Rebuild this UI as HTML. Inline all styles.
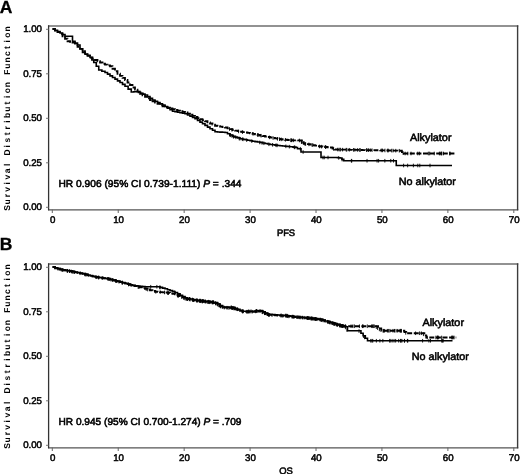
<!DOCTYPE html>
<html lang="en"><head><meta charset="utf-8"><title>Survival Distribution Function</title>
<style>html,body{margin:0;padding:0;background:#fff}svg{display:block;will-change:transform}text{text-rendering:geometricPrecision;font-family:"Liberation Sans",Arial,sans-serif;fill:#000;stroke:#000;stroke-width:.55px}</style></head><body>
<svg width="520" height="474" viewBox="0 0 520 474">
<rect width="520" height="474" fill="#fff"/>
<g transform="translate(0,0)">
<path d="M48,26 H518.3" stroke="#6e6e6e" stroke-width="1.5" fill="none"/>
<path d="M48,209.85 H518.3" stroke="#555" stroke-width="1.35" fill="none"/>
<path d="M48.6,25.3 V210.3" stroke="#333" stroke-width="1.3" fill="none"/>
<path d="M517.6,25.3 V210.3" stroke="#3c3c3c" stroke-width="1.4" fill="none"/>
<path d="M46,29.30 H48.5" stroke="#777" stroke-width="1" fill="none"/>
<text transform="translate(42,32.10) scale(1,1)" font-size="9.7" style="stroke-width:.5px" text-anchor="end">1.00</text>
<path d="M46,73.80 H48.5" stroke="#777" stroke-width="1" fill="none"/>
<text transform="translate(42,76.60) scale(1,1)" font-size="9.7" style="stroke-width:.5px" text-anchor="end">0.75</text>
<path d="M46,118.30 H48.5" stroke="#777" stroke-width="1" fill="none"/>
<text transform="translate(42,121.10) scale(1,1)" font-size="9.7" style="stroke-width:.5px" text-anchor="end">0.50</text>
<path d="M46,162.80 H48.5" stroke="#777" stroke-width="1" fill="none"/>
<text transform="translate(42,165.60) scale(1,1)" font-size="9.7" style="stroke-width:.5px" text-anchor="end">0.25</text>
<path d="M46,207.30 H48.5" stroke="#777" stroke-width="1" fill="none"/>
<text transform="translate(42,210.10) scale(1,1)" font-size="9.7" style="stroke-width:.5px" text-anchor="end">0.00</text>
<path d="M52.30,209.5 V213" stroke="#666" stroke-width="1" fill="none"/>
<text transform="translate(52.65,222.5) scale(1,1)" font-size="9.7" style="stroke-width:.5px" text-anchor="middle">0</text>
<path d="M118.23,209.5 V213" stroke="#666" stroke-width="1" fill="none"/>
<text transform="translate(118.58,222.5) scale(1,1)" font-size="9.7" style="stroke-width:.5px" text-anchor="middle">10</text>
<path d="M184.16,209.5 V213" stroke="#666" stroke-width="1" fill="none"/>
<text transform="translate(184.51,222.5) scale(1,1)" font-size="9.7" style="stroke-width:.5px" text-anchor="middle">20</text>
<path d="M250.09,209.5 V213" stroke="#666" stroke-width="1" fill="none"/>
<text transform="translate(250.44,222.5) scale(1,1)" font-size="9.7" style="stroke-width:.5px" text-anchor="middle">30</text>
<path d="M316.02,209.5 V213" stroke="#666" stroke-width="1" fill="none"/>
<text transform="translate(316.37,222.5) scale(1,1)" font-size="9.7" style="stroke-width:.5px" text-anchor="middle">40</text>
<path d="M381.95,209.5 V213" stroke="#666" stroke-width="1" fill="none"/>
<text transform="translate(382.30,222.5) scale(1,1)" font-size="9.7" style="stroke-width:.5px" text-anchor="middle">50</text>
<path d="M447.88,209.5 V213" stroke="#666" stroke-width="1" fill="none"/>
<text transform="translate(448.23,222.5) scale(1,1)" font-size="9.7" style="stroke-width:.5px" text-anchor="middle">60</text>
<path d="M513.81,209.5 V213" stroke="#666" stroke-width="1" fill="none"/>
<text transform="translate(514.16,222.5) scale(1,1)" font-size="9.7" style="stroke-width:.5px" text-anchor="middle">70</text>
<text x="286" y="235.6" font-size="9.4" text-anchor="middle">PFS</text>
<text x="-0.2" y="12.6" font-size="17.5" font-weight="bold" style="stroke-width:.3px">A</text>
<text transform="translate(9.8,208.0) rotate(-90)" font-size="8.5" font-weight="bold" style="stroke-width:0" text-anchor="middle" x="0.00 6.17 12.34 18.52 24.69 30.86 37.03 43.21 49.38 55.55 61.72 67.90 74.07 80.24 86.41 92.59 98.76 104.93 111.10 117.28 123.45 129.62 135.79 141.97 148.14 154.31 160.48 166.66 172.83 179.00">Survival Distribution Function</text>
<path d="M52.50,29.00 L55.00,29.00 L55.00,30.33 L57.50,30.33 L57.50,31.67 L60.00,31.67 L60.00,33.00 L62.50,33.00 L62.50,34.62 L65.00,34.62 L65.00,36.25 L67.50,36.25 L67.50,36.25 L70.00,36.25 L70.00,36.25 L72.50,36.25 L72.50,41.25 L75.00,41.25 L75.00,43.12 L77.50,43.12 L77.50,45.00 L80.00,45.00 L80.00,48.75 L82.50,48.75 L82.50,52.50 L85.00,52.50 L85.00,54.17 L87.50,54.17 L87.50,55.83 L90.00,55.83 L90.00,57.50 L91.88,57.50 L91.88,60.00 L93.75,60.00 L93.75,62.50 L96.25,62.50 L96.25,66.25 L98.75,66.25 L98.75,70.00 L101.88,70.00 L101.88,71.25 L105.00,71.25 L105.00,72.50 L107.50,72.50 L107.50,74.17 L110.00,74.17 L110.00,75.83 L112.50,75.83 L112.50,77.50 L115.00,77.50 L115.00,79.17 L117.50,79.17 L117.50,80.83 L120.00,80.83 L120.00,82.50 L122.50,82.50 L122.50,84.38 L125.00,84.38 L125.00,86.25 L128.12,86.25 L128.12,89.12 L131.25,89.12 L131.25,92.00 L133.75,92.00 L133.75,91.75 L136.25,91.75 L136.25,91.50 L138.44,91.50 L138.44,92.38 L140.62,92.38 L140.62,93.25 L142.81,93.25 L142.81,94.12 L145.00,94.12 L145.00,95.00 L147.50,95.00 L147.50,96.67 L150.00,96.67 L150.00,98.33 L152.50,98.33 L152.50,100.00 L155.00,100.00 L155.00,101.25 L157.50,101.25 L157.50,102.50 L160.00,102.50 L160.00,103.75 L162.50,103.75 L162.50,105.00 L165.00,105.00 L165.00,106.56 L167.50,106.56 L167.50,108.12 L170.00,108.12 L170.00,109.69 L172.50,109.69 L172.50,111.25 L175.00,111.25 L175.00,111.75 L177.50,111.75 L177.50,112.25 L180.00,112.25 L180.00,112.75 L182.50,112.75 L182.50,113.25 L185.00,113.25 L185.00,113.75 L187.50,113.75 L187.50,115.00 L190.00,115.00 L190.00,116.25 L192.50,116.25 L192.50,117.50 L195.00,117.50 L195.00,118.75 L197.50,118.75 L197.50,120.42 L200.00,120.42 L200.00,122.08 L202.50,122.08 L202.50,123.75 L205.00,123.75 L205.00,125.42 L207.50,125.42 L207.50,127.08 L210.00,127.08 L210.00,128.75 L212.50,128.75 L212.50,130.25 L215.00,130.25 L215.00,131.75 L217.50,131.75 L217.50,131.94 L220.00,131.94 L220.00,132.12 L222.50,132.12 L222.50,132.31 L225.00,132.31 L225.00,132.50 L227.50,132.50 L227.50,133.75 L230.00,133.75 L230.00,135.00 L232.50,135.00 L232.50,136.25 L235.00,136.25 L235.00,137.08 L237.50,137.08 L237.50,137.92 L240.00,137.92 L240.00,138.75 L242.50,138.75 L242.50,139.25 L245.00,139.25 L245.00,139.75 L247.50,139.75 L247.50,140.25 L250.00,140.25 L250.00,140.75 L252.50,140.75 L252.50,141.19 L255.00,141.19 L255.00,141.62 L257.50,141.62 L257.50,142.06 L260.00,142.06 L260.00,142.50 L262.50,142.50 L262.50,143.00 L265.00,143.00 L265.00,143.50 L267.50,143.50 L267.50,144.00 L270.00,144.00 L270.00,144.50 L272.50,144.50 L272.50,144.81 L275.00,144.81 L275.00,145.12 L277.50,145.12 L277.50,145.44 L280.00,145.44 L280.00,145.75 L282.50,145.75 L282.50,146.00 L285.00,146.00 L285.00,146.25 L287.50,146.25 L287.50,146.50 L290.00,146.50 L290.00,146.75 L293.00,146.75 L293.00,147.12 L296.00,147.12 L296.00,147.50 L297.50,147.50 L297.50,148.75 L301.00,148.75 L301.00,148.75 L301.00,152.00 L303.54,152.00 L303.54,152.00 L306.07,152.00 L306.07,152.00 L308.61,152.00 L308.61,152.00 L311.14,152.00 L311.14,152.00 L313.68,152.00 L313.68,152.00 L316.21,152.00 L316.21,152.00 L318.75,152.00 L318.75,152.00 L321.00,152.00 L321.00,157.50 L323.33,157.50 L323.33,157.50 L325.67,157.50 L325.67,157.50 L328.00,157.50 L328.00,157.50 L330.33,157.50 L330.33,157.50 L332.67,157.50 L332.67,157.50 L335.00,157.50 L335.00,157.50 L337.50,157.50 L337.50,157.75 L340.00,157.75 L340.00,158.00 L341.88,158.00 L341.88,159.38 L343.75,159.38 L343.75,160.75 L346.25,160.75 L346.25,160.75 L348.75,160.75 L348.75,160.75 L351.25,160.75 L351.25,160.75 L353.75,160.75 L353.75,160.75 L356.25,160.75 L356.25,160.75 L358.75,160.75 L358.75,160.75 L361.25,160.75 L361.25,160.75 L363.75,160.75 L363.75,160.75 L366.25,160.75 L366.25,160.75 L368.75,160.75 L368.75,160.75 L371.25,160.75 L371.25,160.75 L373.75,160.75 L373.75,160.75 L376.25,160.75 L376.25,160.75 L378.75,160.75 L378.75,160.75 L381.25,160.75 L381.25,160.75 L383.75,160.75 L383.75,160.75 L386.25,160.75 L386.25,160.75 L388.75,160.75 L388.75,160.75 L391.25,160.75 L391.25,160.75 L393.75,160.75 L393.75,160.75 L396.25,160.75 L396.25,160.75 L396.25,165.50 L398.78,165.50 L398.78,165.50 L401.32,165.50 L401.32,165.50 L403.85,165.50 L403.85,165.50 L406.39,165.50 L406.39,165.50 L408.92,165.50 L408.92,165.50 L411.45,165.50 L411.45,165.50 L413.99,165.50 L413.99,165.50 L416.52,165.50 L416.52,165.50 L419.06,165.50 L419.06,165.50 L421.59,165.50 L421.59,165.50 L424.12,165.50 L424.12,165.50 L426.66,165.50 L426.66,165.50 L429.19,165.50 L429.19,165.50 L431.73,165.50 L431.73,165.50 L434.26,165.50 L434.26,165.50 L436.80,165.50 L436.80,165.50 L439.33,165.50 L439.33,165.50 L441.86,165.50 L441.86,165.50 L444.40,165.50 L444.40,165.50 L446.93,165.50 L446.93,165.50 L449.47,165.50 L449.47,165.50 L452.00,165.50 L452.00,165.50" fill="none" stroke="#000" stroke-width="1.6" stroke-linejoin="miter"/>
<path d="M52.50,29.00 L55.00,29.00 L55.00,30.58 L57.50,30.58 L57.50,32.17 L60.00,32.17 L60.00,33.75 L62.50,33.75 L62.50,36.25 L65.00,36.25 L65.00,38.75 L67.50,38.75 L67.50,41.25 L70.00,41.25 L70.00,41.88 L72.50,41.88 L72.50,42.50 L75.00,42.50 L75.00,44.64 L77.50,44.64 L77.50,46.79 L80.00,46.79 L80.00,48.93 L82.50,48.93 L82.50,51.07 L85.00,51.07 L85.00,53.21 L87.50,53.21 L87.50,55.36 L90.00,55.36 L90.00,57.50 L92.50,57.50 L92.50,58.75 L95.00,58.75 L95.00,60.00 L97.50,60.00 L97.50,61.25 L100.00,61.25 L100.00,62.50 L102.50,62.50 L102.50,63.75 L105.00,63.75 L105.00,64.58 L107.50,64.58 L107.50,65.42 L110.00,65.42 L110.00,66.25 L112.50,66.25 L112.50,68.75 L115.00,68.75 L115.00,71.25 L117.50,71.25 L117.50,73.75 L120.00,73.75 L120.00,75.83 L122.50,75.83 L122.50,77.92 L125.00,77.92 L125.00,80.00 L127.50,80.00 L127.50,82.50 L130.00,82.50 L130.00,85.00 L132.50,85.00 L132.50,87.50 L135.00,87.50 L135.00,89.58 L137.50,89.58 L137.50,91.67 L140.00,91.67 L140.00,93.75 L142.50,93.75 L142.50,95.31 L145.00,95.31 L145.00,96.88 L147.50,96.88 L147.50,98.44 L150.00,98.44 L150.00,100.00 L152.50,100.00 L152.50,101.25 L155.00,101.25 L155.00,102.50 L157.50,102.50 L157.50,103.75 L160.00,103.75 L160.00,105.00 L162.50,105.00 L162.50,106.25 L165.00,106.25 L165.00,107.00 L167.50,107.00 L167.50,107.75 L170.00,107.75 L170.00,108.50 L172.50,108.50 L172.50,109.25 L175.00,109.25 L175.00,110.00 L177.50,110.00 L177.50,110.62 L180.00,110.62 L180.00,111.25 L182.50,111.25 L182.50,111.88 L185.00,111.88 L185.00,112.50 L187.50,112.50 L187.50,113.62 L190.00,113.62 L190.00,114.75 L192.50,114.75 L192.50,115.88 L195.00,115.88 L195.00,117.00 L197.50,117.00 L197.50,118.06 L200.00,118.06 L200.00,119.12 L202.50,119.12 L202.50,120.19 L205.00,120.19 L205.00,121.25 L207.50,121.25 L207.50,122.38 L210.00,122.38 L210.00,123.50 L212.50,123.50 L212.50,124.62 L215.00,124.62 L215.00,125.75 L217.50,125.75 L217.50,126.19 L220.00,126.19 L220.00,126.62 L222.50,126.62 L222.50,127.06 L225.00,127.06 L225.00,127.50 L227.50,127.50 L227.50,128.33 L230.00,128.33 L230.00,129.17 L232.50,129.17 L232.50,130.00 L235.00,130.00 L235.00,130.58 L237.50,130.58 L237.50,131.17 L240.00,131.17 L240.00,131.75 L242.50,131.75 L242.50,132.12 L245.00,132.12 L245.00,132.50 L247.50,132.50 L247.50,132.88 L250.00,132.88 L250.00,133.25 L252.50,133.25 L252.50,133.81 L255.00,133.81 L255.00,134.38 L257.50,134.38 L257.50,134.94 L260.00,134.94 L260.00,135.50 L262.50,135.50 L262.50,136.00 L265.00,136.00 L265.00,136.50 L267.50,136.50 L267.50,137.00 L270.00,137.00 L270.00,137.50 L272.50,137.50 L272.50,137.94 L275.00,137.94 L275.00,138.38 L277.50,138.38 L277.50,138.81 L280.00,138.81 L280.00,139.25 L282.50,139.25 L282.50,139.50 L285.00,139.50 L285.00,139.75 L287.50,139.75 L287.50,140.00 L290.00,140.00 L290.00,140.25 L292.50,140.25 L292.50,140.31 L295.00,140.31 L295.00,140.38 L297.50,140.38 L297.50,140.44 L300.00,140.44 L300.00,140.50 L301.88,140.50 L301.88,142.12 L303.75,142.12 L303.75,143.75 L306.88,143.75 L306.88,144.12 L310.00,144.12 L310.00,144.50 L312.50,144.50 L312.50,145.08 L315.00,145.08 L315.00,145.67 L317.50,145.67 L317.50,146.25 L320.00,146.25 L320.00,146.50 L322.50,146.50 L322.50,146.75 L325.00,146.75 L325.00,147.00 L327.50,147.00 L327.50,147.25 L330.00,147.25 L330.00,147.50 L332.50,147.50 L332.50,148.50 L335.00,148.50 L335.00,149.50 L337.50,149.50 L337.50,149.55 L340.00,149.55 L340.00,149.60 L342.50,149.60 L342.50,149.64 L345.00,149.64 L345.00,149.69 L347.50,149.69 L347.50,149.74 L350.00,149.74 L350.00,149.79 L352.50,149.79 L352.50,149.84 L355.00,149.84 L355.00,149.88 L357.50,149.88 L357.50,149.93 L360.00,149.93 L360.00,149.98 L362.50,149.98 L362.50,150.03 L365.00,150.03 L365.00,150.08 L367.50,150.08 L367.50,150.12 L370.00,150.12 L370.00,150.17 L372.50,150.17 L372.50,150.22 L375.00,150.22 L375.00,150.27 L377.50,150.27 L377.50,150.32 L380.00,150.32 L380.00,150.37 L382.50,150.37 L382.50,150.41 L385.00,150.41 L385.00,150.46 L387.50,150.46 L387.50,150.51 L390.00,150.51 L390.00,150.56 L392.50,150.56 L392.50,150.61 L395.00,150.61 L395.00,150.65 L397.50,150.65 L397.50,150.70 L400.00,150.70 L400.00,150.75 L401.88,150.75 L401.88,152.12 L403.75,152.12 L403.75,153.50 L406.22,153.50 L406.22,153.50 L408.70,153.50 L408.70,153.50 L411.17,153.50 L411.17,153.50 L413.65,153.50 L413.65,153.50 L416.12,153.50 L416.12,153.50 L418.59,153.50 L418.59,153.50 L421.07,153.50 L421.07,153.50 L423.54,153.50 L423.54,153.50 L426.01,153.50 L426.01,153.50 L428.49,153.50 L428.49,153.50 L430.96,153.50 L430.96,153.50 L433.44,153.50 L433.44,153.50 L435.91,153.50 L435.91,153.50 L438.38,153.50 L438.38,153.50 L440.86,153.50 L440.86,153.50 L443.33,153.50 L443.33,153.50 L445.80,153.50 L445.80,153.50 L448.28,153.50 L448.28,153.50 L450.75,153.50 L450.75,153.50 L453.23,153.50 L453.23,153.50 L455.70,153.50 L455.70,153.50" fill="none" stroke="#000" stroke-width="1.8" stroke-dasharray="5 1.6"/>
<path d="M229.50,132.95 v3.60 M230.59,133.49 v3.60 M231.96,134.18 v3.60 M233.38,134.74 v3.60 M233.69,134.85 v3.60 M235.89,135.58 v3.60 M239.14,136.66 v3.60 M239.86,136.90 v3.60 M242.31,137.41 v3.60 M243.10,137.57 v3.60 M246.69,138.29 v3.60 M251.79,139.26 v3.60 M259.75,140.66 v3.60 M262.02,141.10 v3.60 M263.86,141.47 v3.60 M268.88,142.48 v3.60 M272.60,143.03 v3.60 M275.94,143.44 v3.60 M277.04,143.58 v3.60 M285.89,144.54 v3.60 M289.31,144.88 v3.60 M294.25,145.48 v3.60 M294.79,145.55 v3.60 M300.29,146.95 v3.60 M303.11,150.20 v3.60 M322.94,155.70 v3.60 M324.22,155.70 v3.60 M328.02,155.70 v3.60 M338.73,156.07 v3.60 M342.15,157.78 v3.60 M351.38,158.95 v3.60 M351.72,158.95 v3.60 M367.04,158.95 v3.60 M377.08,158.95 v3.60 M378.61,158.95 v3.60 M384.85,158.95 v3.60 M390.75,158.95 v3.60 M393.49,158.95 v3.60 M403.61,163.70 v3.60 M407.66,163.70 v3.60 M413.36,163.70 v3.60 M417.80,163.70 v3.60 M419.79,163.70 v3.60 M430.00,163.70 v3.60 " fill="none" stroke="#000" stroke-width="0.9"/>
<path d="M229.51,127.20 v3.60 M231.98,128.03 v3.60 M238.58,129.62 v3.60 M242.48,130.32 v3.60 M253.07,132.14 v3.60 M257.73,133.19 v3.60 M258.11,133.28 v3.60 M261.08,133.92 v3.60 M269.37,135.57 v3.60 M273.08,136.24 v3.60 M277.46,137.01 v3.60 M279.52,137.37 v3.60 M281.23,137.57 v3.60 M285.40,137.99 v3.60 M290.90,138.47 v3.60 M291.06,138.48 v3.60 M291.69,138.49 v3.60 M293.35,138.53 v3.60 M299.42,138.69 v3.60 M301.38,139.89 v3.60 M301.84,140.30 v3.60 M301.90,140.34 v3.60 M304.96,142.10 v3.60 M305.67,142.18 v3.60 M308.89,142.57 v3.60 M312.07,143.18 v3.60 M312.93,143.38 v3.60 M319.52,144.65 v3.60 M321.60,144.86 v3.60 M325.64,145.26 v3.60 M325.68,145.27 v3.60 M333.64,147.16 v3.60 M337.72,147.75 v3.60 M339.21,147.78 v3.60 M340.47,147.81 v3.60 M342.59,147.85 v3.60 M346.21,147.92 v3.60 M346.78,147.93 v3.60 M349.27,147.97 v3.60 M353.47,148.06 v3.60 M354.87,148.08 v3.60 M357.36,148.13 v3.60 M359.33,148.17 v3.60 M360.27,148.19 v3.60 M366.68,148.31 v3.60 M366.83,148.31 v3.60 M368.48,148.34 v3.60 M370.22,148.38 v3.60 M372.02,148.41 v3.60 M381.26,148.59 v3.60 M382.46,148.61 v3.60 M384.96,148.66 v3.60 M387.76,148.71 v3.60 M388.18,148.72 v3.60 M391.66,148.79 v3.60 M393.09,148.82 v3.60 M395.77,148.87 v3.60 M399.28,148.94 v3.60 M403.19,151.29 v3.60 M405.13,151.70 v3.60 M407.75,151.70 v3.60 M411.02,151.70 v3.60 M417.76,151.70 v3.60 M419.41,151.70 v3.60 M428.35,151.70 v3.60 M429.70,151.70 v3.60 M434.22,151.70 v3.60 M439.36,151.70 v3.60 M440.21,151.70 v3.60 M441.59,151.70 v3.60 M441.68,151.70 v3.60 M443.45,151.70 v3.60 M449.61,151.70 v3.60 M450.14,151.70 v3.60 " fill="none" stroke="#000" stroke-width="0.9"/>
<text x="58.5" y="187" font-size="10" textLength="183" lengthAdjust="spacingAndGlyphs">HR 0.906 (95% CI 0.739-1.111) <tspan font-style="italic">P</tspan> = .344</text>
<text x="410.0" y="140.6" font-size="10.5" textLength="41.5" lengthAdjust="spacingAndGlyphs">Alkylator</text>
<text x="398.8" y="185.3" font-size="10.5" textLength="57" lengthAdjust="spacingAndGlyphs">No alkylator</text>
</g>
<g transform="translate(0,238)">
<path d="M48,26 H518.3" stroke="#6e6e6e" stroke-width="1.5" fill="none"/>
<path d="M48,209.85 H518.3" stroke="#555" stroke-width="1.35" fill="none"/>
<path d="M48.6,25.3 V210.3" stroke="#333" stroke-width="1.3" fill="none"/>
<path d="M517.6,25.3 V210.3" stroke="#3c3c3c" stroke-width="1.4" fill="none"/>
<path d="M46,29.30 H48.5" stroke="#777" stroke-width="1" fill="none"/>
<text transform="translate(42,32.10) scale(1,1)" font-size="9.7" style="stroke-width:.5px" text-anchor="end">1.00</text>
<path d="M46,73.80 H48.5" stroke="#777" stroke-width="1" fill="none"/>
<text transform="translate(42,76.60) scale(1,1)" font-size="9.7" style="stroke-width:.5px" text-anchor="end">0.75</text>
<path d="M46,118.30 H48.5" stroke="#777" stroke-width="1" fill="none"/>
<text transform="translate(42,121.10) scale(1,1)" font-size="9.7" style="stroke-width:.5px" text-anchor="end">0.50</text>
<path d="M46,162.80 H48.5" stroke="#777" stroke-width="1" fill="none"/>
<text transform="translate(42,165.60) scale(1,1)" font-size="9.7" style="stroke-width:.5px" text-anchor="end">0.25</text>
<path d="M46,207.30 H48.5" stroke="#777" stroke-width="1" fill="none"/>
<text transform="translate(42,210.10) scale(1,1)" font-size="9.7" style="stroke-width:.5px" text-anchor="end">0.00</text>
<path d="M52.30,209.5 V213" stroke="#666" stroke-width="1" fill="none"/>
<text transform="translate(52.65,222.5) scale(1,1)" font-size="9.7" style="stroke-width:.5px" text-anchor="middle">0</text>
<path d="M118.23,209.5 V213" stroke="#666" stroke-width="1" fill="none"/>
<text transform="translate(118.58,222.5) scale(1,1)" font-size="9.7" style="stroke-width:.5px" text-anchor="middle">10</text>
<path d="M184.16,209.5 V213" stroke="#666" stroke-width="1" fill="none"/>
<text transform="translate(184.51,222.5) scale(1,1)" font-size="9.7" style="stroke-width:.5px" text-anchor="middle">20</text>
<path d="M250.09,209.5 V213" stroke="#666" stroke-width="1" fill="none"/>
<text transform="translate(250.44,222.5) scale(1,1)" font-size="9.7" style="stroke-width:.5px" text-anchor="middle">30</text>
<path d="M316.02,209.5 V213" stroke="#666" stroke-width="1" fill="none"/>
<text transform="translate(316.37,222.5) scale(1,1)" font-size="9.7" style="stroke-width:.5px" text-anchor="middle">40</text>
<path d="M381.95,209.5 V213" stroke="#666" stroke-width="1" fill="none"/>
<text transform="translate(382.30,222.5) scale(1,1)" font-size="9.7" style="stroke-width:.5px" text-anchor="middle">50</text>
<path d="M447.88,209.5 V213" stroke="#666" stroke-width="1" fill="none"/>
<text transform="translate(448.23,222.5) scale(1,1)" font-size="9.7" style="stroke-width:.5px" text-anchor="middle">60</text>
<path d="M513.81,209.5 V213" stroke="#666" stroke-width="1" fill="none"/>
<text transform="translate(514.16,222.5) scale(1,1)" font-size="9.7" style="stroke-width:.5px" text-anchor="middle">70</text>
<text x="286" y="235.6" font-size="9.4" text-anchor="middle">OS</text>
<text x="-0.2" y="12.2" font-size="17.5" font-weight="bold" style="stroke-width:.3px">B</text>
<text transform="translate(9.8,208.0) rotate(-90)" font-size="8.5" font-weight="bold" style="stroke-width:0" text-anchor="middle" x="0.00 6.17 12.34 18.52 24.69 30.86 37.03 43.21 49.38 55.55 61.72 67.90 74.07 80.24 86.41 92.59 98.76 104.93 111.10 117.28 123.45 129.62 135.79 141.97 148.14 154.31 160.48 166.66 172.83 179.00">Survival Distribution Function</text>
<path d="M52.50,29.00 L55.00,29.00 L55.00,29.83 L57.50,29.83 L57.50,30.67 L60.00,30.67 L60.00,31.50 L62.50,31.50 L62.50,31.94 L65.00,31.94 L65.00,32.38 L67.50,32.38 L67.50,32.81 L70.00,32.81 L70.00,33.25 L72.50,33.25 L72.50,33.75 L75.00,33.75 L75.00,34.25 L77.50,34.25 L77.50,34.75 L80.00,34.75 L80.00,35.25 L82.50,35.25 L82.50,35.75 L85.00,35.75 L85.00,36.40 L87.50,36.40 L87.50,37.05 L90.00,37.05 L90.00,37.70 L92.50,37.70 L92.50,38.35 L95.00,38.35 L95.00,39.00 L97.50,39.00 L97.50,39.35 L100.00,39.35 L100.00,39.70 L102.50,39.70 L102.50,40.05 L105.00,40.05 L105.00,40.40 L107.50,40.40 L107.50,40.75 L110.00,40.75 L110.00,41.40 L112.50,41.40 L112.50,42.05 L115.00,42.05 L115.00,42.70 L117.50,42.70 L117.50,43.35 L120.00,43.35 L120.00,44.00 L122.50,44.00 L122.50,44.70 L125.00,44.70 L125.00,45.40 L127.50,45.40 L127.50,46.10 L130.00,46.10 L130.00,46.80 L132.50,46.80 L132.50,47.50 L135.00,47.50 L135.00,47.75 L137.50,47.75 L137.50,48.00 L140.00,48.00 L140.00,48.25 L142.50,48.25 L142.50,48.50 L145.00,48.50 L145.00,48.75 L147.50,48.75 L147.50,48.75 L150.00,48.75 L150.00,48.75 L152.50,48.75 L152.50,48.75 L155.00,48.75 L155.00,48.75 L157.50,48.75 L157.50,48.75 L160.00,48.75 L160.00,49.42 L162.50,49.42 L162.50,50.08 L165.00,50.08 L165.00,50.75 L167.50,50.75 L167.50,51.69 L170.00,51.69 L170.00,52.62 L172.50,52.62 L172.50,53.56 L175.00,53.56 L175.00,54.50 L177.50,54.50 L177.50,55.88 L180.00,55.88 L180.00,57.25 L182.50,57.25 L182.50,58.62 L185.00,58.62 L185.00,60.00 L187.50,60.00 L187.50,60.50 L190.00,60.50 L190.00,61.00 L192.50,61.00 L192.50,61.50 L195.00,61.50 L195.00,62.00 L197.50,62.00 L197.50,62.31 L200.00,62.31 L200.00,62.62 L202.50,62.62 L202.50,62.94 L205.00,62.94 L205.00,63.25 L207.50,63.25 L207.50,63.56 L210.00,63.56 L210.00,63.88 L212.50,63.88 L212.50,64.19 L215.00,64.19 L215.00,64.50 L217.50,64.50 L217.50,66.00 L220.00,66.00 L220.00,67.50 L222.50,67.50 L222.50,69.00 L225.00,69.00 L225.00,69.12 L227.50,69.12 L227.50,69.25 L230.00,69.25 L230.00,69.38 L232.50,69.38 L232.50,69.50 L235.00,69.50 L235.00,70.44 L237.50,70.44 L237.50,71.38 L240.00,71.38 L240.00,72.31 L242.50,72.31 L242.50,73.25 L245.00,73.25 L245.00,73.25 L247.50,73.25 L247.50,73.25 L250.00,73.25 L250.00,73.25 L252.50,73.25 L252.50,73.25 L255.00,73.25 L255.00,73.00 L257.50,73.00 L257.50,72.75 L260.00,72.75 L260.00,72.50 L262.50,72.50 L262.50,73.75 L265.00,73.75 L265.00,75.00 L267.50,75.00 L267.50,76.25 L270.00,76.25 L270.00,76.44 L272.50,76.44 L272.50,76.62 L275.00,76.62 L275.00,76.81 L277.50,76.81 L277.50,77.00 L280.00,77.00 L280.00,77.19 L282.50,77.19 L282.50,77.38 L285.00,77.38 L285.00,77.56 L287.50,77.56 L287.50,77.75 L290.00,77.75 L290.00,78.17 L292.50,78.17 L292.50,78.58 L295.00,78.58 L295.00,79.00 L297.50,79.00 L297.50,79.20 L300.00,79.20 L300.00,79.40 L302.50,79.40 L302.50,79.60 L305.00,79.60 L305.00,79.80 L307.50,79.80 L307.50,80.00 L310.00,80.00 L310.00,80.30 L312.50,80.30 L312.50,80.60 L315.00,80.60 L315.00,80.90 L317.50,80.90 L317.50,81.20 L320.00,81.20 L320.00,81.50 L322.50,81.50 L322.50,82.25 L325.00,82.25 L325.00,83.00 L327.50,83.00 L327.50,83.75 L330.00,83.75 L330.00,84.50 L332.50,84.50 L332.50,85.25 L335.00,85.25 L335.00,86.00 L337.50,86.00 L337.50,86.75 L340.00,86.75 L340.00,87.50 L342.50,87.50 L342.50,88.12 L345.00,88.12 L345.00,88.75 L347.50,88.75 L347.50,92.75 L350.31,92.75 L350.31,92.75 L353.12,92.75 L353.12,92.75 L355.94,92.75 L355.94,92.75 L358.75,92.75 L358.75,92.75 L360.94,92.75 L360.94,95.25 L363.12,95.25 L363.12,97.75 L365.31,97.75 L365.31,100.25 L367.50,100.25 L367.50,102.75 L370.00,102.75 L370.00,102.75 L372.50,102.75 L372.50,102.75 L375.00,102.75 L375.00,102.75 L377.50,102.75 L377.50,102.75 L380.00,102.75 L380.00,102.75 L382.50,102.75 L382.50,102.75 L385.00,102.75 L385.00,102.75 L387.50,102.75 L387.50,102.75 L390.00,102.75 L390.00,102.75 L392.50,102.75 L392.50,102.75 L395.00,102.75 L395.00,102.75 L397.50,102.75 L397.50,102.75 L400.00,102.75 L400.00,102.75 L402.50,102.75 L402.50,102.75 L405.00,102.75 L405.00,102.75 L407.50,102.75 L407.50,102.75 L410.00,102.75 L410.00,102.75 L412.50,102.75 L412.50,102.75 L415.00,102.75 L415.00,102.75 L417.50,102.75 L417.50,102.75 L420.00,102.75 L420.00,102.75 L422.50,102.75 L422.50,102.75 L425.00,102.75 L425.00,102.75 L427.50,102.75 L427.50,102.75 L430.00,102.75 L430.00,102.75 L432.50,102.75 L432.50,102.75 L435.00,102.75 L435.00,102.75 L437.50,102.75 L437.50,102.75 L440.00,102.75 L440.00,102.75 L442.50,102.75 L442.50,102.75 L445.00,102.75 L445.00,102.75 L447.50,102.75 L447.50,102.75 L450.00,102.75 L450.00,102.75 L452.50,102.75 L452.50,102.75" fill="none" stroke="#000" stroke-width="1.6" stroke-linejoin="miter"/>
<path d="M52.50,29.00 L55.00,29.00 L55.00,29.83 L57.50,29.83 L57.50,30.67 L60.00,30.67 L60.00,31.50 L62.50,31.50 L62.50,31.94 L65.00,31.94 L65.00,32.38 L67.50,32.38 L67.50,32.81 L70.00,32.81 L70.00,33.25 L72.50,33.25 L72.50,33.75 L75.00,33.75 L75.00,34.25 L77.50,34.25 L77.50,34.75 L80.00,34.75 L80.00,35.25 L82.50,35.25 L82.50,35.75 L85.00,35.75 L85.00,36.40 L87.50,36.40 L87.50,37.05 L90.00,37.05 L90.00,37.70 L92.50,37.70 L92.50,38.35 L95.00,38.35 L95.00,39.00 L97.50,39.00 L97.50,39.35 L100.00,39.35 L100.00,39.70 L102.50,39.70 L102.50,40.05 L105.00,40.05 L105.00,40.40 L107.50,40.40 L107.50,40.75 L110.00,40.75 L110.00,41.40 L112.50,41.40 L112.50,42.05 L115.00,42.05 L115.00,42.70 L117.50,42.70 L117.50,43.35 L120.00,43.35 L120.00,44.00 L122.50,44.00 L122.50,44.70 L125.00,44.70 L125.00,45.40 L127.50,45.40 L127.50,46.10 L130.00,46.10 L130.00,46.80 L132.50,46.80 L132.50,47.50 L135.00,47.50 L135.00,48.15 L137.50,48.15 L137.50,48.80 L140.00,48.80 L140.00,49.45 L142.50,49.45 L142.50,50.10 L145.00,50.10 L145.00,50.75 L147.50,50.75 L147.50,51.50 L150.00,51.50 L150.00,52.25 L152.50,52.25 L152.50,53.00 L155.00,53.00 L155.00,53.75 L157.50,53.75 L157.50,53.94 L160.00,53.94 L160.00,54.12 L162.50,54.12 L162.50,54.31 L165.00,54.31 L165.00,54.50 L167.50,54.50 L167.50,54.94 L170.00,54.94 L170.00,55.38 L172.50,55.38 L172.50,55.81 L175.00,55.81 L175.00,56.25 L177.50,56.25 L177.50,57.31 L180.00,57.31 L180.00,58.38 L182.50,58.38 L182.50,59.44 L185.00,59.44 L185.00,60.50 L187.50,60.50 L187.50,61.00 L190.00,61.00 L190.00,61.50 L192.50,61.50 L192.50,62.00 L195.00,62.00 L195.00,62.50 L197.50,62.50 L197.50,62.81 L200.00,62.81 L200.00,63.12 L202.50,63.12 L202.50,63.44 L205.00,63.44 L205.00,63.75 L207.50,63.75 L207.50,64.06 L210.00,64.06 L210.00,64.38 L212.50,64.38 L212.50,64.69 L215.00,64.69 L215.00,65.00 L217.50,65.00 L217.50,66.50 L220.00,66.50 L220.00,68.00 L222.50,68.00 L222.50,69.50 L225.00,69.50 L225.00,69.62 L227.50,69.62 L227.50,69.75 L230.00,69.75 L230.00,69.88 L232.50,69.88 L232.50,70.00 L235.00,70.00 L235.00,70.94 L237.50,70.94 L237.50,71.88 L240.00,71.88 L240.00,72.81 L242.50,72.81 L242.50,73.75 L245.00,73.75 L245.00,73.75 L247.50,73.75 L247.50,73.75 L250.00,73.75 L250.00,73.75 L252.50,73.75 L252.50,73.75 L255.00,73.75 L255.00,73.50 L257.50,73.50 L257.50,73.25 L260.00,73.25 L260.00,73.00 L262.50,73.00 L262.50,74.25 L265.00,74.25 L265.00,75.50 L267.50,75.50 L267.50,76.75 L270.00,76.75 L270.00,76.94 L272.50,76.94 L272.50,77.12 L275.00,77.12 L275.00,77.31 L277.50,77.31 L277.50,77.50 L280.00,77.50 L280.00,77.69 L282.50,77.69 L282.50,77.88 L285.00,77.88 L285.00,78.06 L287.50,78.06 L287.50,78.25 L290.00,78.25 L290.00,78.50 L292.50,78.50 L292.50,78.75 L295.00,78.75 L295.00,79.00 L297.50,79.00 L297.50,79.20 L300.00,79.20 L300.00,79.40 L302.50,79.40 L302.50,79.60 L305.00,79.60 L305.00,79.80 L307.50,79.80 L307.50,80.00 L310.00,80.00 L310.00,80.30 L312.50,80.30 L312.50,80.60 L315.00,80.60 L315.00,80.90 L317.50,80.90 L317.50,81.20 L320.00,81.20 L320.00,81.50 L322.50,81.50 L322.50,82.25 L325.00,82.25 L325.00,83.00 L327.50,83.00 L327.50,83.75 L330.00,83.75 L330.00,84.50 L332.50,84.50 L332.50,85.25 L335.00,85.25 L335.00,86.00 L337.50,86.00 L337.50,86.75 L340.00,86.75 L340.00,87.50 L342.50,87.50 L342.50,87.88 L345.00,87.88 L345.00,88.25 L347.50,88.25 L347.50,88.25 L350.00,88.25 L350.00,88.25 L352.50,88.25 L352.50,88.25 L355.00,88.25 L355.00,88.25 L357.50,88.25 L357.50,88.25 L360.00,88.25 L360.00,88.25 L362.50,88.25 L362.50,88.25 L365.00,88.25 L365.00,88.25 L367.50,88.25 L367.50,88.25 L370.00,88.25 L370.00,88.25 L372.50,88.25 L372.50,88.25 L375.00,88.25 L375.00,88.25 L378.12,88.25 L378.12,90.50 L381.25,90.50 L381.25,92.75 L383.91,92.75 L383.91,92.75 L386.56,92.75 L386.56,92.75 L389.22,92.75 L389.22,92.75 L391.88,92.75 L391.88,92.75 L394.53,92.75 L394.53,92.75 L397.19,92.75 L397.19,92.75 L399.84,92.75 L399.84,92.75 L402.50,92.75 L402.50,92.75 L404.38,92.75 L404.38,94.00 L406.25,94.00 L406.25,95.25 L408.96,95.25 L408.96,95.25 L411.67,95.25 L411.67,95.25 L414.38,95.25 L414.38,95.25 L417.08,95.25 L417.08,95.25 L419.79,95.25 L419.79,95.25 L422.50,95.25 L422.50,95.25 L424.38,95.25 L424.38,97.38 L426.25,97.38 L426.25,99.50 L428.75,99.50 L428.75,99.50 L431.25,99.50 L431.25,99.50 L433.75,99.50 L433.75,99.50 L436.25,99.50 L436.25,99.50 L438.75,99.50 L438.75,99.50 L441.25,99.50 L441.25,99.50 L443.75,99.50 L443.75,99.50 L446.25,99.50 L446.25,99.50 L448.75,99.50 L448.75,99.50 L451.25,99.50 L451.25,99.50 L453.75,99.50 L453.75,99.50 L456.25,99.50 L456.25,99.50" fill="none" stroke="#000" stroke-width="1.8" stroke-dasharray="5 1.6"/>
<path d="M55.03,28.04 v3.60 M58.06,29.05 v3.60 M61.31,29.93 v3.60 M62.47,30.13 v3.60 M63.08,30.24 v3.60 M67.18,30.96 v3.60 M67.42,31.00 v3.60 M69.74,31.40 v3.60 M72.83,32.02 v3.60 M73.15,32.08 v3.60 M74.48,32.35 v3.60 M80.05,33.46 v3.60 M85.27,34.67 v3.60 M95.81,37.31 v3.60 M96.69,37.44 v3.60 M98.63,37.71 v3.60 M98.70,37.72 v3.60 M102.09,38.19 v3.60 M102.88,38.30 v3.60 M110.92,39.84 v3.60 M113.06,40.40 v3.60 M128.69,44.63 v3.60 M131.11,45.31 v3.60 M150.74,46.95 v3.60 M156.87,46.95 v3.60 M159.92,47.60 v3.60 M159.94,47.60 v3.60 M174.17,52.39 v3.60 M177.42,54.03 v3.60 M178.93,54.86 v3.60 M179.60,55.23 v3.60 M179.75,55.31 v3.60 M179.93,55.41 v3.60 M189.41,59.08 v3.60 M189.60,59.12 v3.60 M192.37,59.67 v3.60 M196.60,60.40 v3.60 M197.27,60.48 v3.60 M199.85,60.81 v3.60 M199.92,60.82 v3.60 M200.70,60.91 v3.60 M202.44,61.13 v3.60 M203.40,61.25 v3.60 M203.90,61.31 v3.60 M205.35,61.49 v3.60 M208.44,61.88 v3.60 M209.74,62.04 v3.60 M210.88,62.18 v3.60 M212.48,62.38 v3.60 M212.92,62.44 v3.60 M213.55,62.52 v3.60 M213.56,62.52 v3.60 M219.06,65.14 v3.60 M219.39,65.33 v3.60 M220.01,65.71 v3.60 M222.50,67.20 v3.60 M231.04,67.63 v3.60 M231.53,67.65 v3.60 M233.25,67.98 v3.60 M234.57,68.48 v3.60 M235.45,68.80 v3.60 M236.99,69.38 v3.60 M237.34,69.51 v3.60 M242.29,71.37 v3.60 M243.24,71.45 v3.60 M248.75,71.45 v3.60 M251.03,71.45 v3.60 M256.27,71.07 v3.60 M256.51,71.05 v3.60 M263.00,72.20 v3.60 M264.52,72.96 v3.60 M264.78,73.09 v3.60 M264.80,73.10 v3.60 M265.54,73.47 v3.60 M267.34,74.37 v3.60 M268.27,74.51 v3.60 M281.09,75.47 v3.60 M285.44,75.80 v3.60 M286.01,75.84 v3.60 M286.74,75.89 v3.60 M287.30,75.93 v3.60 M292.73,76.82 v3.60 M293.35,76.93 v3.60 M298.22,77.46 v3.60 M300.78,77.66 v3.60 M302.52,77.80 v3.60 M306.23,78.10 v3.60 M307.44,78.20 v3.60 M307.99,78.26 v3.60 M309.15,78.40 v3.60 M310.94,78.61 v3.60 M311.14,78.64 v3.60 M312.03,78.74 v3.60 M312.11,78.75 v3.60 M312.96,78.85 v3.60 M314.12,78.99 v3.60 M315.45,79.15 v3.60 M315.51,79.16 v3.60 M315.91,79.21 v3.60 M317.87,79.44 v3.60 M319.95,79.69 v3.60 M321.77,80.23 v3.60 M323.20,80.66 v3.60 M328.05,82.12 v3.60 M328.82,82.35 v3.60 M329.66,82.60 v3.60 M333.72,83.81 v3.60 M334.29,83.99 v3.60 M335.96,84.49 v3.60 M336.67,84.70 v3.60 M337.35,84.91 v3.60 M337.61,84.98 v3.60 M340.05,85.71 v3.60 M340.18,85.75 v3.60 M341.35,86.04 v3.60 M341.65,86.11 v3.60 M342.44,86.31 v3.60 M342.97,86.44 v3.60 M345.42,87.62 v3.60 M347.00,90.15 v3.60 M359.02,91.26 v3.60 M363.44,96.31 v3.60 M364.59,97.63 v3.60 M370.74,100.95 v3.60 M371.95,100.95 v3.60 M372.75,100.95 v3.60 M376.35,100.95 v3.60 M379.88,100.95 v3.60 M382.85,100.95 v3.60 M389.83,100.95 v3.60 M390.01,100.95 v3.60 M392.09,100.95 v3.60 M394.02,100.95 v3.60 M395.66,100.95 v3.60 M398.68,100.95 v3.60 M400.46,100.95 v3.60 M401.02,100.95 v3.60 M401.91,100.95 v3.60 M404.43,100.95 v3.60 M404.54,100.95 v3.60 M407.42,100.95 v3.60 M407.75,100.95 v3.60 M422.60,100.95 v3.60 M428.92,100.95 v3.60 M430.51,100.95 v3.60 M441.76,100.95 v3.60 M442.37,100.95 v3.60 M443.20,100.95 v3.60 " fill="none" stroke="#000" stroke-width="0.9"/>
<path d="M67.73,31.05 v3.60 M69.59,31.38 v3.60 M71.46,31.74 v3.60 M84.82,34.55 v3.60 M86.15,34.90 v3.60 M88.23,35.44 v3.60 M108.05,39.09 v3.60 M108.19,39.13 v3.60 M109.28,39.41 v3.60 M112.36,40.21 v3.60 M115.67,41.07 v3.60 M115.93,41.14 v3.60 M116.46,41.28 v3.60 M118.99,41.94 v3.60 M122.14,42.80 v3.60 M122.24,42.83 v3.60 M122.41,42.87 v3.60 M128.50,44.58 v3.60 M138.13,47.16 v3.60 M138.91,47.37 v3.60 M146.20,49.31 v3.60 M147.67,49.75 v3.60 M155.80,52.01 v3.60 M160.18,52.34 v3.60 M164.50,52.66 v3.60 M167.98,53.22 v3.60 M168.06,53.24 v3.60 M168.19,53.26 v3.60 M177.61,55.56 v3.60 M178.07,55.76 v3.60 M178.09,55.76 v3.60 M178.31,55.86 v3.60 M181.73,57.31 v3.60 M183.56,58.09 v3.60 M184.78,58.61 v3.60 M185.93,58.89 v3.60 M186.33,58.97 v3.60 M187.31,59.16 v3.60 M187.33,59.17 v3.60 M187.43,59.19 v3.60 M189.24,59.55 v3.60 M190.21,59.74 v3.60 M192.81,60.26 v3.60 M193.07,60.31 v3.60 M193.61,60.42 v3.60 M196.97,60.95 v3.60 M197.02,60.95 v3.60 M199.31,61.24 v3.60 M200.39,61.37 v3.60 M201.26,61.48 v3.60 M202.45,61.63 v3.60 M202.45,61.63 v3.60 M205.24,61.98 v3.60 M207.21,62.23 v3.60 M208.28,62.36 v3.60 M209.30,62.49 v3.60 M212.33,62.87 v3.60 M215.53,63.52 v3.60 M215.91,63.75 v3.60 M217.58,64.75 v3.60 M218.96,65.58 v3.60 M220.15,66.29 v3.60 M220.54,66.52 v3.60 M220.98,66.79 v3.60 M224.29,67.79 v3.60 M226.85,67.92 v3.60 M228.04,67.98 v3.60 M229.15,68.03 v3.60 M231.35,68.14 v3.60 M232.65,68.26 v3.60 M232.66,68.26 v3.60 M233.99,68.76 v3.60 M242.70,71.95 v3.60 M246.78,71.95 v3.60 M247.30,71.95 v3.60 M248.36,71.95 v3.60 M249.88,71.95 v3.60 M252.14,71.95 v3.60 M255.71,71.63 v3.60 M257.83,71.42 v3.60 M260.02,71.21 v3.60 M262.08,72.24 v3.60 M262.65,72.53 v3.60 M264.58,73.49 v3.60 M268.68,75.04 v3.60 M269.02,75.06 v3.60 M269.19,75.08 v3.60 M272.00,75.29 v3.60 M281.07,75.97 v3.60 M282.85,76.10 v3.60 M287.24,76.43 v3.60 M288.81,76.58 v3.60 M291.99,76.90 v3.60 M294.07,77.11 v3.60 M296.74,77.34 v3.60 M297.77,77.42 v3.60 M299.62,77.57 v3.60 M304.11,77.93 v3.60 M307.43,78.19 v3.60 M308.27,78.29 v3.60 M309.02,78.38 v3.60 M311.28,78.65 v3.60 M314.23,79.01 v3.60 M316.52,79.28 v3.60 M320.56,79.87 v3.60 M321.67,80.20 v3.60 M325.08,81.22 v3.60 M327.49,81.95 v3.60 M329.94,82.68 v3.60 M331.26,83.08 v3.60 M332.53,83.46 v3.60 M333.89,83.87 v3.60 M334.52,84.06 v3.60 M336.93,84.78 v3.60 M339.48,85.54 v3.60 M340.19,85.73 v3.60 M342.46,86.07 v3.60 M343.28,86.19 v3.60 M345.12,86.45 v3.60 M345.55,86.45 v3.60 M351.04,86.45 v3.60 M352.85,86.45 v3.60 M354.38,86.45 v3.60 M359.41,86.45 v3.60 M362.49,86.45 v3.60 M363.12,86.45 v3.60 M367.31,86.45 v3.60 M371.89,86.45 v3.60 M372.13,86.45 v3.60 M373.37,86.45 v3.60 M374.22,86.45 v3.60 M376.29,87.38 v3.60 M377.53,88.27 v3.60 M379.36,89.59 v3.60 M383.04,90.95 v3.60 M383.58,90.95 v3.60 M384.58,90.95 v3.60 M387.36,90.95 v3.60 M388.63,90.95 v3.60 M389.92,90.95 v3.60 M392.97,90.95 v3.60 M394.49,90.95 v3.60 M396.00,90.95 v3.60 M397.69,90.95 v3.60 M399.95,90.95 v3.60 M400.81,90.95 v3.60 M401.03,90.95 v3.60 M401.24,90.95 v3.60 M405.73,93.10 v3.60 M415.59,93.45 v3.60 M419.43,93.45 v3.60 M421.34,93.45 v3.60 M423.45,94.52 v3.60 M427.24,97.70 v3.60 M435.90,97.70 v3.60 M437.38,97.70 v3.60 M437.64,97.70 v3.60 M438.38,97.70 v3.60 M441.63,97.70 v3.60 M451.76,97.70 v3.60 M452.19,97.70 v3.60 M452.96,97.70 v3.60 M454.05,97.70 v3.60 " fill="none" stroke="#000" stroke-width="0.9"/>
<text x="58.5" y="187" font-size="10" textLength="183" lengthAdjust="spacingAndGlyphs">HR 0.945 (95% CI 0.700-1.274) <tspan font-style="italic">P</tspan> = .709</text>
<text x="422.5" y="88.3" font-size="10.5" textLength="41.5" lengthAdjust="spacingAndGlyphs">Alkylator</text>
<text x="411.8" y="121.5" font-size="10.5" textLength="57" lengthAdjust="spacingAndGlyphs">No alkylator</text>
</g>
</svg></body></html>
